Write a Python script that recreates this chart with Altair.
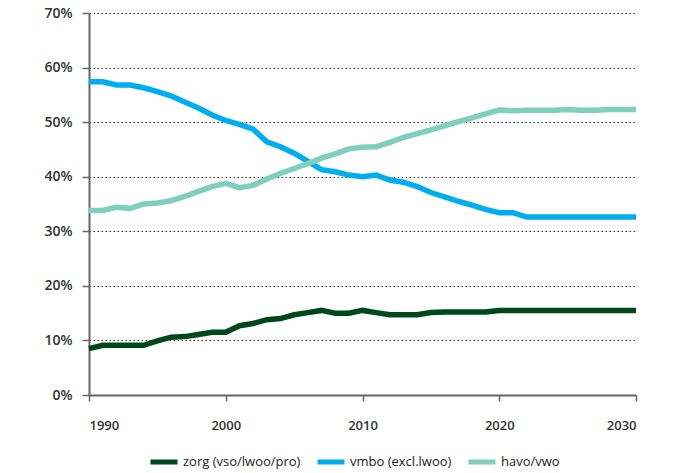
import altair as alt
import pandas as pd

years = list(range(1990, 2031))

zorg = [8.5, 9.1, 9.1, 9.1, 9.1, 9.9, 10.6, 10.7, 11.1, 11.5,
        11.5, 12.7, 13.1, 13.8, 14.0, 14.7, 15.1, 15.5, 15.0, 15.0,
        15.5, 15.1, 14.7, 14.7, 14.7, 15.1, 15.2, 15.2, 15.2, 15.2,
        15.5, 15.5, 15.5, 15.5, 15.5, 15.5, 15.5, 15.5, 15.5, 15.5, 15.5]

vmbo = [57.4, 57.4, 56.8, 56.8, 56.3, 55.6, 54.8, 53.7, 52.6, 51.3,
        50.3, 49.6, 48.7, 46.4, 45.5, 44.3, 42.8, 41.3, 40.9, 40.3,
        40.0, 40.3, 39.4, 39.0, 38.2, 37.1, 36.3, 35.5, 34.8, 34.0,
        33.4, 33.4, 32.6, 32.6, 32.6, 32.6, 32.6, 32.6, 32.6, 32.6, 32.6]

havo = [33.8, 33.8, 34.4, 34.2, 35.0, 35.2, 35.6, 36.4, 37.3, 38.2,
        38.8, 38.0, 38.4, 39.6, 40.6, 41.5, 42.4, 43.4, 44.2, 45.1,
        45.4, 45.5, 46.3, 47.2, 47.9, 48.6, 49.3, 50.1, 50.8, 51.5,
        52.2, 52.1, 52.2, 52.2, 52.2, 52.3, 52.2, 52.2, 52.3, 52.3, 52.3]

series = ["zorg (vso/lwoo/pro)", "vmbo (excl.lwoo)", "havo/vwo"]
colors = ["#00471c", "#00aeef", "#7ecfc0"]
y_ticks = [0, 0.1, 0.2, 0.3, 0.4, 0.5, 0.6, 0.7]
x_ticks = [1990, 2000, 2010, 2020, 2030]

rows = []
for name, vals in zip(series, [zorg, vmbo, havo]):
    for yr, v in zip(years, vals):
        rows.append({"jaar": yr, "aandeel": v / 100.0, "groep": name})
df = pd.DataFrame(rows)

FONT = "Open Sans"

chart = alt.Chart(df).mark_line(strokeWidth=5.5).encode(
    x=alt.X("jaar:Q",
            scale=alt.Scale(domain=[1990, 2030], nice=False, zero=False),
            axis=alt.Axis(values=x_ticks, format="d", title=None, grid=False,
                          domainColor="#666", domainWidth=2,
                          tickColor="#666", tickWidth=1.5, tickSize=6,
                          labelPadding=18, labelFont=FONT, labelFontSize=13,
                          labelFontWeight=600, labelColor="#333")),
    y=alt.Y("aandeel:Q",
            scale=alt.Scale(domain=[0, 0.7], nice=False),
            axis=alt.Axis(values=y_ticks, format=".0%", title=None, grid=True,
                          gridDash=[1.5, 2.5], gridColor="#333", gridWidth=1,
                          domainColor="#666", domainWidth=2,
                          tickColor="#666", tickWidth=1.5, tickSize=7,
                          labelPadding=10, labelFont=FONT, labelFontSize=14,
                          labelFontWeight=600, labelColor="#333")),
    color=alt.Color("groep:N",
                    scale=alt.Scale(domain=series, range=colors),
                    sort=series,
                    legend=alt.Legend(title=None, orient="none",
                                      legendX=59, legendY=433,
                                      direction="horizontal",
                                      symbolType="stroke", symbolStrokeWidth=5,
                                      symbolSize=729, labelFont=FONT,
                                      labelFontSize=13, labelColor="#222",
                                      labelOffset=3, columnPadding=6)),
    order=alt.Order("jaar:Q"),
).properties(
    width=547,
    height=382,
    autosize=alt.AutoSizeParams(type="none"),
    padding={"left": 81, "top": 5, "right": 32, "bottom": 77},
).configure_view(stroke=None)

chart.save("out.html", embed_options={"renderer": "svg", "actions": False})
